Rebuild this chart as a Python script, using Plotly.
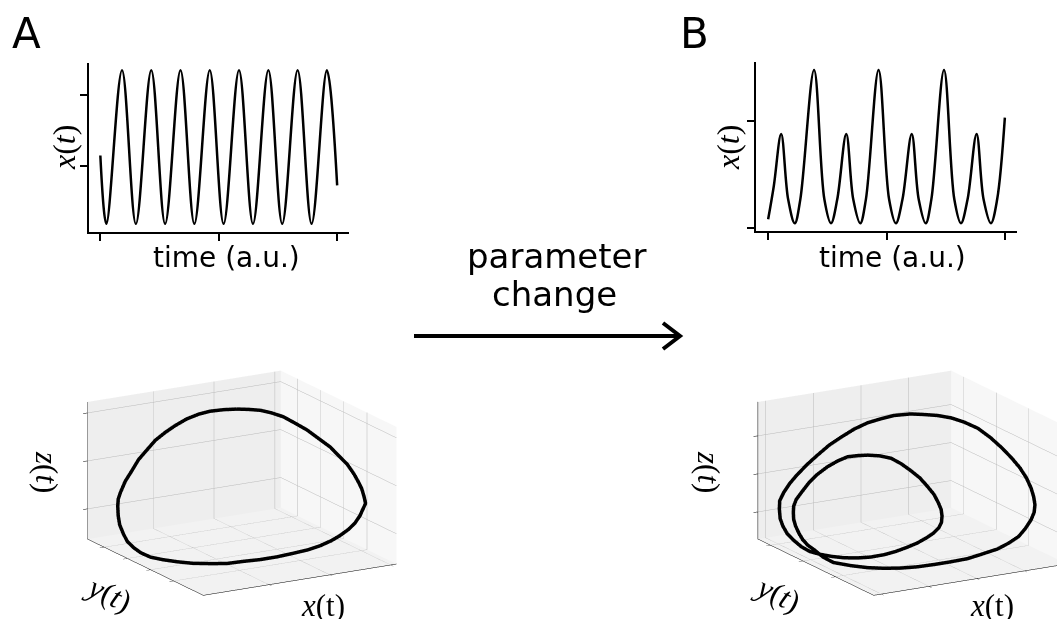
import math
import plotly.graph_objects as go

W, H = 1057, 619

# ---- time series (panel A: periodic oscillation) ----
t_A = [0, 5.1, 18.3, 30.0, 43.0, 54.7, 67.7, 79.4, 92.4, 104.1, 117.1, 128.9, 141.9, 153.6, 166.6, 178.4, 191.3, 200]
x_A = [0.143, -0.829, 1.357, -0.829, 1.357, -0.829, 1.357, -0.829, 1.357, -0.829, 1.357, -0.829, 1.357, -0.829, 1.357, -0.829, 1.357, -0.281]

# ---- time series (panel B: period-2 oscillation) ----
t_B = [0, 4.8, 11.0, 16.9, 22.5, 27.2, 38.8, 47.5, 53.1, 58.4, 66.0, 71.9, 77.8, 82.6, 93.3, 102.2, 107.9,
       113.5, 121.3, 127.2, 133.1, 137.9, 148.6, 157.3, 162.9, 168.5, 176.1, 182.0, 188.2, 193.5, 200]
x_B = [0.081, 0.393, 0.878, 0.268, 0.044, 0.268, 1.477, 0.268, 0.044, 0.268, 0.878, 0.268, 0.044, 0.268, 1.477, 0.268, 0.044,
       0.268, 0.878, 0.268, 0.044, 0.268, 1.477, 0.268, 0.044, 0.268, 0.878, 0.268, 0.044, 0.268, 1.031]

# ---- phase-space trajectory, panel A (limit cycle) ----
cycA_x = [1.99, 1.79, 1.57, 1.37, 1.14, 0.91, 0.71, 0.54, 0.43, 0.35, 0.29, 0.24, 0.19, 0.18, 0.18, 0.18, 0.17, 0.16,
          0.12, 0.09, 0.06, 0.07, 0.11, 0.19, 0.29, 0.46, 0.66, 0.91, 1.17, 1.45, 1.73, 1.99, 2.21, 2.42, 2.56, 2.68,
          2.75, 2.79, 2.82, 2.84, 2.82, 2.80, 2.78, 2.74, 2.69, 2.62, 2.58, 2.53, 2.51, 2.51, 2.48, 2.41, 2.30, 2.15]
cycA_y = [3.72, 3.76, 3.77, 3.73, 3.64, 3.52, 3.43, 3.42, 3.50, 3.65, 3.80, 3.93, 4.02, 4.08, 4.10, 4.08, 3.99, 3.81,
          3.53, 3.18, 2.79, 2.39, 1.96, 1.53, 1.14, 0.84, 0.67, 0.60, 0.57, 0.57, 0.60, 0.64, 0.71, 0.77, 0.78, 0.72,
          0.61, 0.50, 0.43, 0.39, 0.40, 0.45, 0.52, 0.63, 0.78, 0.96, 1.22, 1.58, 2.05, 2.56, 2.99, 3.31, 3.51, 3.64]
cycA_z = [2.89, 2.91, 2.92, 2.91, 2.88, 2.82, 2.74, 2.61, 2.41, 2.19, 1.92, 1.70, 1.44, 1.30, 1.15, 0.95, 0.79, 0.65,
          0.56, 0.52, 0.51, 0.51, 0.55, 0.59, 0.63, 0.66, 0.66, 0.67, 0.66, 0.66, 0.67, 0.68, 0.70, 0.75, 0.82, 0.94,
          1.09, 1.26, 1.43, 1.53, 1.67, 1.83, 1.94, 2.11, 2.28, 2.43, 2.56, 2.66, 2.74, 2.76, 2.80, 2.82, 2.85, 2.87]

# ---- phase-space trajectory, panel B (period-2 cycle) ----
cycB_x = [3.70, 3.46, 3.12, 2.83, 2.52, 2.19, 1.88, 1.66, 1.48, 1.37, 1.25, 1.18, 1.11, 1.07, 1.07, 1.08, 1.09, 1.09,
          1.07, 1.06, 1.05, 1.07, 1.14, 1.21, 1.33, 1.49, 1.71, 1.94, 2.21, 2.47, 2.73, 2.93, 3.11, 3.25, 3.35, 3.40,
          3.39, 3.31, 3.17, 3.02, 2.83, 2.63, 2.44, 2.23, 2.04, 1.91, 1.79, 1.69, 1.58, 1.47, 1.38, 1.31, 1.24, 1.22,
          1.22, 1.22, 1.22, 1.20, 1.16, 1.11, 1.07, 1.04, 1.03, 1.15, 1.30, 1.50, 1.77, 2.08, 2.42, 2.77, 3.13, 3.47,
          3.83, 4.10, 4.32, 4.43, 4.51, 4.54, 4.55, 4.53, 4.51, 4.46, 4.39, 4.31, 4.23, 4.20, 4.17, 4.13, 4.05, 3.90]
cycB_y = [2.47, 2.53, 2.55, 2.53, 2.48, 2.41, 2.36, 2.40, 2.50, 2.65, 2.79, 2.91, 3.00, 3.06, 3.07, 3.06, 2.99, 2.86,
          2.65, 2.38, 2.10, 1.82, 1.55, 1.29, 1.05, 0.88, 0.78, 0.77, 0.81, 0.88, 0.96, 1.05, 1.16, 1.28, 1.41, 1.51,
          1.58, 1.60, 1.61, 1.61, 1.61, 1.61, 1.64, 1.68, 1.77, 1.88, 2.03, 2.18, 2.34, 2.49, 2.62, 2.72, 2.80, 2.85,
          2.86, 2.85, 2.79, 2.66, 2.48, 2.25, 1.98, 1.67, 1.34, 0.99, 0.69, 0.48, 0.36, 0.31, 0.29, 0.29, 0.31, 0.36,
          0.41, 0.46, 0.47, 0.43, 0.37, 0.32, 0.31, 0.32, 0.37, 0.44, 0.54, 0.68, 0.88, 1.16, 1.51, 1.87, 2.16, 2.36]
cycB_z = [3.36, 3.40, 3.42, 3.40, 3.38, 3.31, 3.18, 3.00, 2.73, 2.45, 2.14, 1.88, 1.61, 1.38, 1.16, 0.91, 0.74, 0.60,
          0.53, 0.46, 0.45, 0.49, 0.53, 0.59, 0.66, 0.72, 0.78, 0.82, 0.86, 0.89, 0.95, 0.99, 1.04, 1.11, 1.20, 1.32,
          1.47, 1.70, 1.95, 2.19, 2.42, 2.64, 2.81, 2.90, 2.92, 2.89, 2.82, 2.67, 2.47, 2.23, 1.97, 1.72, 1.49, 1.30,
          1.12, 0.95, 0.80, 0.67, 0.58, 0.54, 0.53, 0.48, 0.48, 0.52, 0.56, 0.59, 0.59, 0.58, 0.58, 0.58, 0.58, 0.61,
          0.65, 0.73, 0.86, 1.06, 1.30, 1.51, 1.71, 1.92, 2.13, 2.38, 2.62, 2.84, 3.05, 3.19, 3.30, 3.32, 3.33, 3.34]

rngA = dict(x=[-0.08, 3.096], y=[-0.275, 4.725], z=[0.371, 3.228])
rngB = dict(x=[0.838, 4.888], y=[-0.179, 3.392], z=[0.286, 3.89])
ticksA = [[1, 2, 3], [1, 2, 3, 4], [1, 2, 3]]
ticksB = [[1, 2, 3, 4], [1, 2, 3], [1, 2, 3]]


def px(x):
    return x / W


def py(y):
    return 1 - y / H


fig = go.Figure()
line_kw = dict(color='black', width=2.5, shape='spline')
fig.add_trace(go.Scatter(x=t_A, y=x_A, mode='lines', line=line_kw, xaxis='x', yaxis='y'))
fig.add_trace(go.Scatter(x=t_B, y=x_B, mode='lines', line=line_kw, xaxis='x2', yaxis='y2'))
fig.add_trace(go.Scatter3d(x=cycA_x + cycA_x[:1], y=cycA_y + cycA_y[:1], z=cycA_z + cycA_z[:1], mode='lines',
                           line=dict(color='black', width=7), scene='scene'))
fig.add_trace(go.Scatter3d(x=cycB_x + cycB_x[:1], y=cycB_y + cycB_y[:1], z=cycB_z + cycB_z[:1], mode='lines',
                           line=dict(color='black', width=7), scene='scene2'))


def xax(d0, d1, anchor):
    return dict(domain=[px(d0), px(d1)], range=[-10, 210], tickvals=[0, 100, 200], showticklabels=False,
                ticks='outside', ticklen=7, tickwidth=1.5, tickcolor='black', showline=True, linecolor='black',
                linewidth=2, showgrid=False, zeroline=False, anchor=anchor)


def yax(top, bot, rng, tv, anchor):
    return dict(domain=[py(bot), py(top)], range=rng, tickvals=tv, showticklabels=False,
                ticks='outside', ticklen=7, tickwidth=1.5, tickcolor='black', showline=True, linecolor='black',
                linewidth=2, showgrid=False, zeroline=False, anchor=anchor)


def ax3(rng, tv, bg):
    return dict(range=rng, autorange=False, tickvals=tv, showticklabels=False, ticks='outside', ticklen=5,
                tickcolor='black', showline=True, linecolor='black', linewidth=1, gridcolor='#b9b9b9',
                gridwidth=1, showbackground=True, backgroundcolor=bg, zeroline=False, showspikes=False,
                title=dict(text=''))


el, az = math.radians(16.3), math.radians(-120)
D = 3.0
eye = dict(x=D * math.cos(el) * math.cos(az), y=D * math.cos(el) * math.sin(az), z=D * math.sin(el))
k = 0.295
cen = dict(x=-0.866 * k, y=0.5 * k, z=0)
eyeB = dict(x=eye['x'] + cen['x'], y=eye['y'] + cen['y'], z=eye['z'])


def scene(dx0, dx1, rng, tvs, eye_, cen_):
    return dict(domain=dict(x=[px(dx0), px(dx1)], y=[py(602.5), py(362.5)]),
                xaxis=ax3(rng['x'], tvs[0], '#f7f7f7'),
                yaxis=ax3(rng['y'], tvs[1], '#eeeeee'),
                zaxis=ax3(rng['z'], tvs[2], '#f2f2f2'),
                aspectmode='manual', aspectratio=dict(x=1.86, y=1.93, z=1.19),
                camera=dict(eye=eye_, center=cen_, up=dict(x=0, y=0, z=1),
                            projection=dict(type='orthographic')),
                bgcolor='rgba(0,0,0,0)')


fig.update_layout(
    width=W, height=H, margin=dict(l=0, r=0, t=0, b=0), autosize=False,
    paper_bgcolor='white', plot_bgcolor='white', showlegend=False, hovermode=False,
    xaxis=xax(88.5, 349, 'y'), yaxis=yax(62.5, 231.5, [-0.938, 1.466], [0, 1], 'x'),
    xaxis2=xax(756.3, 1016.7, 'y2'), yaxis2=yax(62.3, 231, [-0.028, 1.549], [0, 1], 'x2'),
    scene=scene(62, 422, rngA, ticksA, eye, dict(x=0, y=0, z=0)),
    scene2=scene(697, 1057, rngB, ticksB, eyeB, cen),
)

sans = 'DejaVu Sans'
serif = 'Liberation Serif'
anns = []


def ann(text, x, y, size, family=sans, angle=0):
    anns.append(dict(text=text, x=px(x), y=py(y), xref='paper', yref='paper', showarrow=False,
                     xanchor='center', yanchor='middle', textangle=angle,
                     font=dict(family=family, size=size, color='black')))


ann('A', 26, 34, 42)
ann('B', 694, 34, 42)
ann('time (a.u.)', 226, 257, 28)
ann('time (a.u.)', 892.5, 257, 28)
ann('<i>x</i>(<i>t</i>)', 64, 148, 32, serif, -90)
ann('<i>x</i>(<i>t</i>)', 728, 148, 32, serif, -90)
ann('parameter', 556.5, 256, 34)
ann('change', 554.5, 294, 34)
ann('<i>x</i>(t)', 323, 605, 31, serif)
ann('<i>y</i>(<i>t</i>)', 109, 593, 31, serif, 25)
ann('<i>z</i>(<i>t</i>)', 47, 472, 31, serif, 90)
ann('<i>x</i>(t)', 991.5, 605, 31, serif)
ann('<i>y</i>(<i>t</i>)', 777.5, 593, 31, serif, 25)
ann('<i>z</i>(<i>t</i>)', 709, 472, 31, serif, 90)
fig.update_layout(annotations=anns)

fig.add_shape(type='line', xref='paper', yref='paper', x0=px(414), y0=py(336), x1=px(678), y1=py(336),
              line=dict(color='black', width=4))
fig.add_shape(type='path', xref='paper', yref='paper',
              path=f'M {px(663)},{py(323)} L {px(680)},{py(336)} L {px(663)},{py(349)}',
              line=dict(color='black', width=4))

fig.write_html('out.html', config={'displayModeBar': False})
